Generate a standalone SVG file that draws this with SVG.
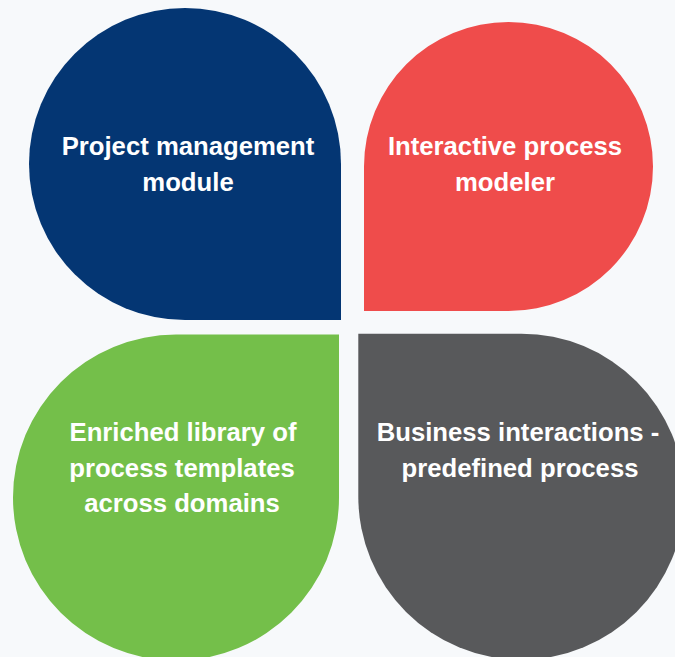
<svg xmlns="http://www.w3.org/2000/svg" width="675" height="657" viewBox="0 0 675 657">
<style>
.lbl{font-family:"Liberation Sans","Arial",sans-serif;font-weight:700;font-size:25.7px;fill:#ffffff;text-anchor:middle}
</style>
<rect x="0" y="0" width="675" height="657" fill="#f7f9fb"/>
<g id="node-project">
<path d="M341,320 L185,320 A156,156 0 0 1 29,164 A156,156 0 0 1 185,8 A156,156 0 0 1 341,164 Z" fill="#043673"/>
<text class="lbl" x="188" y="155">Project management</text>
<text class="lbl" x="188" y="191">module</text>
</g>
<g id="node-modeler">
<path d="M364,311 L364,166.5 A144.5,144.5 0 0 1 508.5,22 A144.5,144.5 0 0 1 653,166.5 A144.5,144.5 0 0 1 508.5,311 Z" fill="#ef4c4b"/>
<text class="lbl" x="505" y="155">Interactive process</text>
<text class="lbl" x="505" y="191">modeler</text>
</g>
<g id="node-library">
<path d="M339,334.5 L339,497.5 A163,163 0 0 1 176,660.5 A163,163 0 0 1 13,497.5 A163,163 0 0 1 176,334.5 Z" fill="#74bf4a"/>
<text class="lbl" x="183" y="441">Enriched library of</text>
<text class="lbl" x="182" y="477">process templates</text>
<text class="lbl" x="182" y="512">across domains</text>
</g>
<g id="node-business">
<path d="M358.3,333.7 L521.3,333.7 A163,163 0 0 1 684.3,496.7 A163,163 0 0 1 521.3,659.7 A163,163 0 0 1 358.3,496.7 Z" fill="#58595b"/>
<text class="lbl" x="518" y="441">Business interactions -</text>
<text class="lbl" x="520" y="477">predefined process</text>
</g>
<g id="connectors"></g>
</svg>
